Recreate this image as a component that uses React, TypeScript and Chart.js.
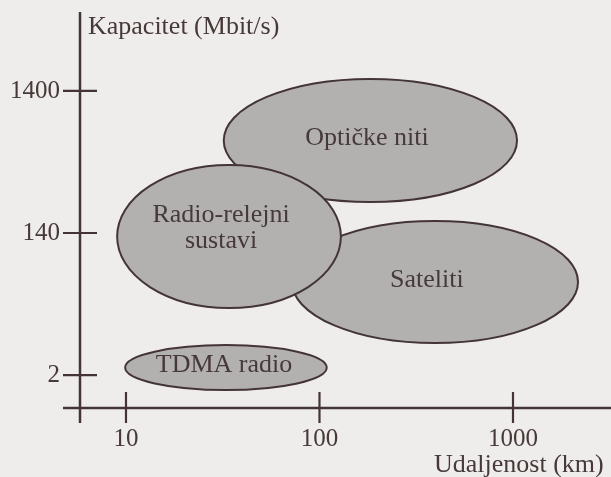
import React, { useEffect, useRef } from "react";
import { Chart, registerables } from "chart.js";

Chart.register(...registerables);

// ---- data ----
const technologies = ["Optičke niti", "Sateliti", "TDMA radio", "Radio-relejni sustavi"];
const labelLines = [["Optičke niti"], ["Sateliti"], ["TDMA radio"], ["Radio-relejni", "sustavi"]];
// distance span (km) of each region
const distanceMin = [32, 72, 9.9, 9.0];
const distanceMax = [1049, 2168, 109, 129];
// capacity span expressed in axis levels (0 = 2, 1 = 140, 2 = 1400 Mbit/s)
const levelMin = [1.218, 0.225, -0.106, 0.472];
const levelMax = [2.085, 1.085, 0.211, 1.479];
// label anchor points
const labelDistance = [176, 359, 32.1, 31];
const labelLevel = [1.669, 0.669, 0.067, 1.032];

const xTickValues = [10, 100, 1000];
const xTickLabels = ["10", "100", "1000"];
const yTickValues = [0, 1, 2];
const yTickLabels = ["2", "140", "1400"];

const yAxisTitle = "Kapacitet (Mbit/s)";
const xAxisTitle = "Udaljenost (km)";

const INK = "#433535";
const TEXT = "#463939";
const FILL = "#b3b1b0";
const BG = "#efedeb";
const FONT = "'Liberation Serif', 'DejaVu Serif', serif";

const regionsPlugin = {
  id: "regions",
  beforeDraw(chart: any) {
    const { ctx, width, height } = chart;
    ctx.save();
    ctx.fillStyle = BG;
    ctx.fillRect(0, 0, width, height);
    ctx.restore();
  },
  afterDraw(chart: any) {
    const { ctx, chartArea } = chart;
    const xs = chart.scales.x;
    const ys = chart.scales.y;
    ctx.save();
    // axes
    ctx.strokeStyle = INK;
    ctx.lineWidth = 2.5;
    ctx.beginPath();
    ctx.moveTo(chartArea.left, chartArea.top);
    ctx.lineTo(chartArea.left, chartArea.bottom + 15);
    ctx.moveTo(chartArea.left - 17, chartArea.bottom);
    ctx.lineTo(chartArea.right, chartArea.bottom);
    ctx.stroke();
    // tick marks crossing the axes
    ctx.lineWidth = 2.2;
    ctx.beginPath();
    yTickValues.forEach((v) => {
      const py = ys.getPixelForValue(v);
      ctx.moveTo(chartArea.left - 17, py);
      ctx.lineTo(chartArea.left + 17, py);
    });
    xTickValues.forEach((v) => {
      const px = xs.getPixelForValue(v);
      ctx.moveTo(px, chartArea.bottom - 16);
      ctx.lineTo(px, chartArea.bottom + 15);
    });
    ctx.stroke();

    // ellipses
    technologies.forEach((_, i) => {
      const x1 = xs.getPixelForValue(distanceMin[i]);
      const x2 = xs.getPixelForValue(distanceMax[i]);
      const y1 = ys.getPixelForValue(levelMax[i]);
      const y2 = ys.getPixelForValue(levelMin[i]);
      ctx.beginPath();
      ctx.ellipse((x1 + x2) / 2, (y1 + y2) / 2, (x2 - x1) / 2, (y2 - y1) / 2, 0, 0, Math.PI * 2);
      ctx.fillStyle = FILL;
      ctx.fill();
      ctx.lineWidth = 2;
      ctx.strokeStyle = INK;
      ctx.stroke();
    });
    // region labels
    ctx.fillStyle = TEXT;
    ctx.font = `26px ${FONT}`;
    ctx.textAlign = "center";
    ctx.textBaseline = "middle";
    technologies.forEach((_, i) => {
      const cx = xs.getPixelForValue(labelDistance[i]);
      const cy = ys.getPixelForValue(labelLevel[i]);
      const lines = labelLines[i];
      const lh = 26;
      lines.forEach((ln, j) => {
        ctx.fillText(ln, cx, cy + (j - (lines.length - 1) / 2) * lh);
      });
    });
    // axis titles
    ctx.textBaseline = "alphabetic";
    ctx.textAlign = "left";
    ctx.fillText(yAxisTitle, chartArea.left + 8, 34);
    ctx.fillText(xAxisTitle, 434, 472);
    ctx.restore();
  },
};

export default function App() {
  const ref = useRef<HTMLCanvasElement | null>(null);
  useEffect(() => {
    if (!ref.current) return;
    const chart = new Chart(ref.current, {
      type: "scatter",
      data: { datasets: [] },
      plugins: [regionsPlugin],
      options: {
        animation: false,
        responsive: false,
        layout: { padding: { top: 12, left: 0, right: 0, bottom: 0 } },
        plugins: { legend: { display: false }, tooltip: { enabled: false } },
        scales: {
          x: {
            type: "logarithmic",
            min: 5.785,
            max: 3210,
            grid: { display: false, drawTicks: false },
            border: { display: false },
            afterBuildTicks: (s: any) => {
              s.ticks = xTickValues.map((v) => ({ value: v }));
            },
            afterFit: (s: any) => {
              s.height = 69;
              s.paddingLeft = 0;
              s.paddingRight = 0;
              s.paddingTop = 0;
              s.paddingBottom = 0;
            },
            ticks: {
              autoSkip: false,
              maxRotation: 0,
              padding: 19,
              color: TEXT,
              font: { family: FONT, size: 25, lineHeight: 1 },
              callback: (_v: any, i: number) => xTickLabels[i],
            },
          },
          y: {
            type: "linear",
            min: -0.232,
            max: 2.556,
            grid: { display: false, drawTicks: false },
            border: { display: false },
            afterBuildTicks: (s: any) => {
              s.ticks = yTickValues.map((v) => ({ value: v }));
            },
            afterFit: (s: any) => {
              s.width = 80;
              s.paddingLeft = 0;
              s.paddingRight = 0;
              s.paddingTop = 0;
              s.paddingBottom = 0;
            },
            ticks: {
              autoSkip: false,
              padding: 20,
              color: TEXT,
              font: { family: FONT, size: 25, lineHeight: 1 },
              callback: (_v: any, i: number) => yTickLabels[i],
            },
          },
        },
      },
    });
    return () => chart.destroy();
  }, []);
  return (
    <div style={{ position: "fixed", left: 0, top: 0, width: 611, height: 477, background: BG }}>
      <canvas ref={ref} width={611} height={477} style={{ display: "block" }} />
    </div>
  );
}
